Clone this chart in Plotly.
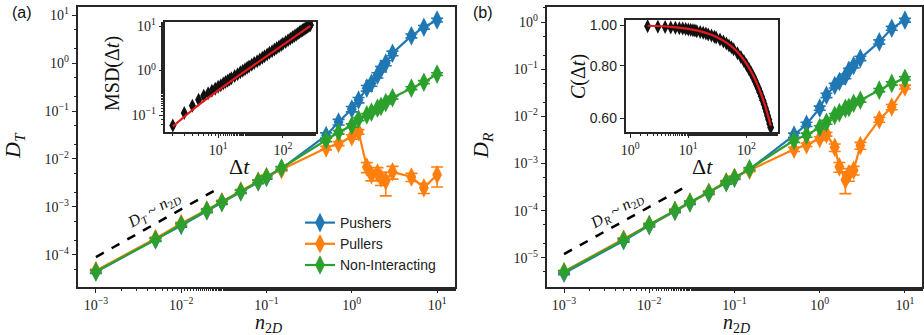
import plotly.graph_objects as go

# ---------------- data ----------------
n2d = [0.001, 0.005, 0.01, 0.02, 0.03, 0.05, 0.08, 0.1, 0.15, 0.5, 0.7, 1.0,
       1.2, 1.5, 1.7, 2.0, 2.2, 2.5, 3.0, 5.0, 7.0, 10.0]

DT_push = [4.4e-5, 2.05e-4, 4.1e-4, 8.2e-4, 1.22e-3, 2.05e-3, 3.3e-3, 4.1e-3, 6.3e-3,
           0.031, 0.059, 0.11, 0.17, 0.30, 0.38, 0.56, 0.75, 1.0, 1.6, 3.7, 5.6, 7.9]
DT_pull = [4.7e-5, 2.2e-4, 4.5e-4, 8.6e-4, 1.28e-3, 2.15e-3, 3.45e-3, 4.3e-3, 6.0e-3,
           0.017, 0.021, 0.029, 0.037, 0.0068, 0.0047, 0.0051, 0.0040, 0.0035, 0.0054,
           0.0042, 0.0025, 0.0047]
DT_non = [4.5e-5, 2.1e-4, 4.3e-4, 8.5e-4, 1.25e-3, 2.1e-3, 3.4e-3, 4.2e-3, 6.5e-3,
          0.025, 0.036, 0.05, 0.068, 0.083, 0.095, 0.115, 0.125, 0.15, 0.19, 0.30, 0.40, 0.59]

DT_push_err = [3e-6, 1.5e-5, 3e-5, 6e-5, 9e-5, 1.5e-4, 2.5e-4, 3e-4, 5e-4, 0.004, 0.008,
               0.014, 0.022, 0.04, 0.05, 0.07, 0.1, 0.12, 0.18, 0.35, 0.5, 0.7]
DT_pull_err = [3e-6, 1.5e-5, 3e-5, 6e-5, 9e-5, 1.5e-4, 2.5e-4, 3e-4, 4e-4, 0.0015, 0.002,
               0.003, 0.004, 0.0016, 0.0012, 0.0015, 0.0012, 0.0018, 0.0016, 0.0008,
               0.0006, 0.0021]
DT_non_err = [3e-6, 1.4e-5, 3e-5, 5e-5, 8e-5, 1.4e-4, 2.2e-4, 2.8e-4, 4.5e-4, 0.002, 0.003,
              0.004, 0.005, 0.006, 0.007, 0.008, 0.009, 0.01, 0.013, 0.02, 0.03, 0.04]

DR_push = [4.7e-6, 2.3e-5, 4.8e-5, 9.6e-5, 1.45e-4, 2.35e-4, 3.9e-4, 4.9e-4, 7.5e-4,
           0.0040, 0.0068, 0.015, 0.028, 0.045, 0.055, 0.071, 0.095, 0.12, 0.17, 0.38,
           0.74, 1.1]
DR_pull = [5.1e-6, 2.5e-5, 5.1e-5, 1.02e-4, 1.52e-4, 2.45e-4, 4.1e-4, 5.1e-4, 7.2e-4,
           0.0020, 0.0025, 0.0034, 0.0042, 0.0022, 0.00085, 0.00045, 0.00060, 0.00072,
           0.0024, 0.0085, 0.0158, 0.042]
DR_non = [5.0e-6, 2.4e-5, 5.0e-5, 1.0e-4, 1.5e-4, 2.4e-4, 4.0e-4, 5.0e-4, 7.7e-4,
          0.0031, 0.0040, 0.0058, 0.0075, 0.0105, 0.012, 0.0148, 0.0155, 0.019, 0.022,
          0.036, 0.050, 0.064]

DR_push_err = [3e-7, 1.5e-6, 3e-6, 6e-6, 9e-6, 1.5e-5, 2.5e-5, 3e-5, 5e-5, 0.0004, 0.0007,
               0.0015, 0.003, 0.005, 0.006, 0.008, 0.01, 0.013, 0.018, 0.04, 0.07, 0.1]
DR_pull_err = [3e-7, 1.5e-6, 3e-6, 6e-6, 9e-6, 1.5e-5, 2.5e-5, 3e-5, 5e-5, 0.0002, 0.0002,
               0.0003, 0.0004, 0.0004, 0.0002, 0.00022, 0.00018, 0.00015, 0.0004, 0.001,
               0.002, 0.004]
DR_non_err = [3e-7, 1.5e-6, 3e-6, 6e-6, 9e-6, 1.5e-5, 2.5e-5, 3e-5, 5e-5, 0.0003, 0.0004,
              0.0005, 0.0007, 0.001, 0.001, 0.0012, 0.0013, 0.0015, 0.002, 0.003, 0.004, 0.005]

guide_n_a = [0.001, 0.028]
guide_DT = [9e-5, 2.5e-3]
guide_n_b = [0.001, 0.025]
guide_DR = [1.2e-5, 3.0e-4]

# inset (a): MSD
dt_msd = [2, 3, 4, 5, 6, 7, 8, 9, 10, 11, 12, 13, 14, 15, 16, 18, 20, 22, 24, 26, 28, 30,
          33, 36, 40, 44, 48, 52, 57, 62, 68, 74, 80, 87, 94, 100, 110, 120, 130, 140,
          150, 160, 170, 180, 190, 200, 210, 220, 230, 240, 250, 260, 265]
msd = [0.058, 0.112, 0.163, 0.22, 0.27, 0.31, 0.35, 0.39, 0.43, 0.47, 0.51, 0.55, 0.59,
       0.63, 0.67, 0.75, 0.83, 0.91, 0.99, 1.07, 1.15, 1.23, 1.35, 1.47, 1.62, 1.78, 1.94,
       2.1, 2.3, 2.5, 2.72, 2.96, 3.2, 3.47, 3.75, 4.0, 4.4, 4.8, 5.2, 5.6, 6.0, 6.4, 6.8,
       7.2, 7.6, 8.0, 8.4, 8.8, 9.2, 9.6, 10.0, 10.4, 10.6]
dt_msd_fit = [2, 3, 4, 5, 7, 10, 20, 50, 100, 200, 265]
msd_fit = [0.056, 0.094, 0.13, 0.17, 0.25, 0.36, 0.74, 1.9, 3.8, 7.6, 10.1]

# inset (b): orientation correlation
dt_c = [2, 3, 4, 5, 6, 7, 8, 9, 10, 11, 12, 13, 14, 16, 18, 20, 22, 25, 28, 30, 35, 40,
        45, 50, 55, 60, 70, 80, 90, 100, 110, 120, 130, 140, 150, 160, 170, 180, 190,
        200, 210, 220, 230, 240, 250, 260]
corr = [0.994, 0.991, 0.989, 0.987, 0.985, 0.983, 0.981, 0.979, 0.976, 0.974, 0.972, 0.97,
        0.967, 0.963, 0.958, 0.954, 0.95, 0.944, 0.938, 0.934, 0.924, 0.914, 0.904, 0.894,
        0.885, 0.876, 0.857, 0.839, 0.821, 0.803, 0.786, 0.77, 0.753, 0.737, 0.721, 0.706,
        0.691, 0.676, 0.662, 0.648, 0.634, 0.621, 0.608, 0.595, 0.582, 0.57]
dt_c_fit = [2, 5, 10, 20, 30, 50, 70, 100, 130, 160, 200, 230, 260]
corr_fit = [0.996, 0.99, 0.979, 0.958, 0.938, 0.899, 0.862, 0.808, 0.758, 0.711, 0.653,
            0.613, 0.575]

# ---------------- styling ----------------
W, H = 924, 335
BLUE, ORANGE, GREEN = "#1f77b4", "#ff7f0e", "#2ca02c"
SERIF = "Liberation Serif"
SANS = "Liberation Sans"
FRAME = "#262626"


def px(x):
    return x / W


def py(y):
    return 1 - y / H


def sup(e):
    s = str(e).replace("-", "\u2212")
    return f"10<sup>{s}</sup>"


fig = go.Figure()


def add_series(x, y, err, color, name, xa, ya, show):
    fig.add_trace(go.Scatter(
        x=x, y=y, mode="lines+markers", name=name, showlegend=show,
        line=dict(color=color, width=2.2),
        marker=dict(symbol="diamond-tall", size=14, color=color),
        error_y=dict(type="data", array=err, visible=True, color=color,
                     thickness=1.6, width=6),
        xaxis=xa, yaxis=ya, legendgroup=name))


add_series(n2d, DT_push, DT_push_err, BLUE, "Pushers", "x", "y", True)
add_series(n2d, DT_pull, DT_pull_err, ORANGE, "Pullers", "x", "y", True)
add_series(n2d, DT_non, DT_non_err, GREEN, "Non-Interacting", "x", "y", True)

add_series(n2d, DR_push, DR_push_err, BLUE, "Pushers", "x2", "y2", False)
add_series(n2d, DR_pull, DR_pull_err, ORANGE, "Pullers", "x2", "y2", False)
add_series(n2d, DR_non, DR_non_err, GREEN, "Non-Interacting", "x2", "y2", False)

fig.add_trace(go.Scatter(x=guide_n_a, y=guide_DT, mode="lines", showlegend=False,
                         line=dict(color="black", width=2.5, dash="dash"),
                         xaxis="x", yaxis="y"))
fig.add_trace(go.Scatter(x=guide_n_b, y=guide_DR, mode="lines", showlegend=False,
                         line=dict(color="black", width=2.5, dash="dash"),
                         xaxis="x2", yaxis="y2"))

# insets
fig.add_trace(go.Scatter(x=dt_msd, y=msd, mode="markers", showlegend=False,
                         marker=dict(symbol="diamond-tall", size=10, color="#111"),
                         error_y=dict(type="percent", value=12, visible=True,
                                      color="#111", thickness=1.2, width=2),
                         xaxis="x3", yaxis="y3"))
fig.add_trace(go.Scatter(x=dt_msd_fit, y=msd_fit, mode="lines", showlegend=False,
                         line=dict(color="#e41a1c", width=2.2),
                         xaxis="x3", yaxis="y3"))
fig.add_trace(go.Scatter(x=dt_c, y=corr, mode="markers", showlegend=False,
                         marker=dict(symbol="diamond-tall", size=10, color="#111"),
                         error_y=dict(type="percent", value=0.8, visible=True,
                                      color="#111", thickness=1.2, width=2),
                         xaxis="x4", yaxis="y4"))
fig.add_trace(go.Scatter(x=dt_c_fit, y=corr_fit, mode="lines", showlegend=False,
                         line=dict(color="#e41a1c", width=2.2, shape="spline"),
                         xaxis="x4", yaxis="y4"))

minor = dict(ticks="outside", ticklen=2.5, tickwidth=0.8, tickcolor=FRAME, showgrid=False)


def logaxis(domain, rng, tickexps, anchor, fontsize=14, minor_on=True):
    d = dict(type="log", domain=domain, range=rng, anchor=anchor, automargin=False,
             showline=True, linecolor=FRAME, linewidth=1.5, mirror=True,
             ticks="outside", ticklen=4.5, tickwidth=1.1, tickcolor=FRAME,
             showgrid=False, zeroline=False,
             tickvals=[10 ** e for e in tickexps], ticktext=[sup(e) for e in tickexps],
             tickfont=dict(family=SERIF, size=fontsize, color="#222"))
    if minor_on:
        d["minor"] = minor
    return d


main_ax_dom = [px(78), px(455)]
main_bx_dom = [px(547), px(922)]
main_y_dom = [py(287), py(7)]

layout = dict(
    width=W, height=H, margin=dict(l=0, r=0, t=0, b=0),
    paper_bgcolor="white", plot_bgcolor="white",
    xaxis=logaxis(main_ax_dom, [-3.21, 1.21], [-3, -2, -1, 0, 1], "y"),
    yaxis=logaxis(main_y_dom, [-4.67, 1.17], [-4, -3, -2, -1, 0, 1], "x"),
    xaxis2=logaxis(main_bx_dom, [-3.2, 1.2], [-3, -2, -1, 0, 1], "y2"),
    yaxis2=logaxis(main_y_dom, [-5.62, 0.32], [-5, -4, -3, -2, -1, 0], "x2"),
    xaxis3=logaxis([px(165), px(316)], [0.18, 2.51], [1, 2], "y3", 14),
    yaxis3=logaxis([py(132), py(22)], [-1.38, 1.09], [-1, 0, 1], "x3", 14),
    xaxis4=logaxis([px(626), px(778)], [-0.07, 2.54], [0, 1, 2], "y4", 14),
    yaxis4=logaxis([py(132), py(20)], [-0.255, 0.012], [], "x4", 14, minor_on=False),
    legend=dict(x=px(300), y=py(207), xanchor="left", yanchor="top",
                bgcolor="rgba(255,255,255,0)", borderwidth=0,
                font=dict(family=SANS, size=14, color="#222"),
                tracegroupgap=0, itemwidth=30),
    showlegend=True,
)
layout["yaxis4"]["tickvals"] = [0.6, 0.8, 1.0]
layout["yaxis4"]["ticktext"] = ["0.60", "0.80", "1.00"]
layout["yaxis4"]["tickfont"] = dict(family=SANS, size=14, color="#222")
fig.update_layout(**layout)

ann = []


def text(x, y, t, size, angle=0, family=SERIF):
    ann.append(dict(x=px(x), y=py(y), xref="paper", yref="paper", text=t,
                    showarrow=False, textangle=angle, xanchor="center", yanchor="middle",
                    font=dict(family=family, size=size, color="#111")))


text(22, 12, "(a)", 16, family=SANS)
text(483, 12, "(b)", 16, family=SANS)
text(14, 146, "<i>D</i><sub><i>T</i></sub>", 22, -90)
text(482, 146, "<i>D</i><sub><i>R</i></sub>", 22, -90)
text(268, 323, "<i>n</i><sub>2<i>D</i></sub>", 20)
text(736, 323, "<i>n</i><sub>2<i>D</i></sub>", 20)
text(240, 166, "\u0394<i>t</i>", 22)
text(702, 166, "\u0394<i>t</i>", 22)
text(112, 74, "MSD(\u0394<i>t</i>)", 20, -90)
text(578, 77, "<i>C</i>(\u0394<i>t</i>)", 20, -90)
text(153, 210, "<i>D<sub>T</sub></i> ~ <i>n</i><sub>2<i>D</i></sub>", 16, -30)
text(617, 211, "<i>D<sub>R</sub></i> ~ <i>n</i><sub>2<i>D</i></sub>", 16, -30)
fig.update_layout(annotations=ann)

fig.write_html("out.html", config={"displayModeBar": False},
               post_script="document.body.style.margin='0';"
                           "document.body.style.overflow='hidden';")
